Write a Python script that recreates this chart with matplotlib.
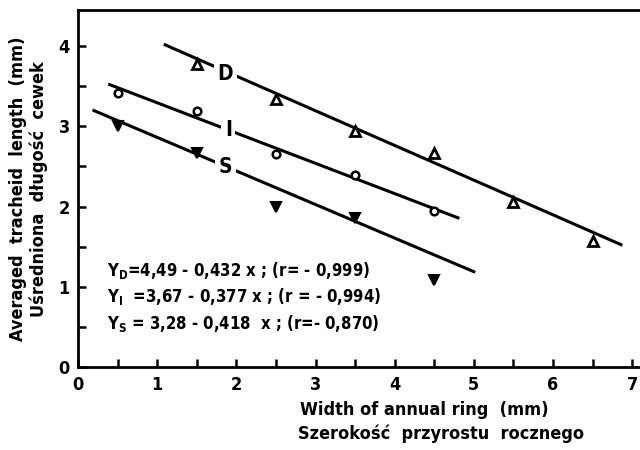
import matplotlib
matplotlib.use("Agg")
import matplotlib.pyplot as plt
import numpy as np

plt.rcParams['font.family'] = ['DejaVu Sans']
plt.rcParams['font.weight'] = 'bold'
plt.rcParams['font.stretch'] = 'condensed'
plt.rcParams['mathtext.fontset'] = 'custom'
plt.rcParams['mathtext.rm'] = 'DejaVu Sans:bold:stretch=condensed'
plt.rcParams['mathtext.bf'] = 'DejaVu Sans:bold:stretch=condensed'

# Data
x_D = [1.5, 2.5, 3.5, 4.5, 5.5, 6.5]
y_D = [3.78, 3.34, 2.94, 2.67, 2.06, 1.57]
x_I = [0.5, 1.5, 2.5, 3.5, 4.5]
y_I = [3.42, 3.19, 2.65, 2.39, 1.95]
x_S = [0.5, 1.5, 2.5, 3.5, 4.5]
y_S = [3.00, 2.67, 2.00, 1.86, 1.08]

# Regression lines (intercept, slope, x range)
fit_D = (4.49, -0.432, 1.1, 6.86)
fit_I = (3.67, -0.377, 0.4, 4.8)
fit_S = (3.28, -0.418, 0.2, 5.0)

eq_lines = [
    r"Y$_\mathbf{D}$=4,49 - 0,432 x ; (r= - 0,999)",
    r"Y$_\mathbf{I}$  =3,67 - 0,377 x ; (r = - 0,994)",
    r"Y$_\mathbf{S}$ = 3,28 - 0,418  x ; (r=- 0,870)",
]

fig = plt.figure(figsize=(6.4, 4.5), dpi=100)
ax = fig.add_axes([0.122, 0.184, 0.878, 0.794])
ax.set_xlim(0, 7.1)
ax.set_ylim(0, 4.45)

for (a, b, x0, x1) in (fit_D, fit_I, fit_S):
    xs = np.array([x0, x1])
    ax.plot(xs, a + b * xs, color='black', lw=2.2, zorder=2)

ax.plot(x_D, y_D, linestyle='none', marker='^', ms=6.5, mfc='white', mec='black', mew=2, zorder=3)
ax.plot(x_I, y_I, linestyle='none', marker='o', ms=5.5, mfc='white', mec='black', mew=1.8, zorder=3)
ax.plot(x_S, y_S, linestyle='none', marker='v', ms=6.5, mfc='black', mec='black', mew=1.5, zorder=3)

lab_kw = dict(fontsize=15, fontweight='bold', ha='center', va='center', zorder=4,
              bbox=dict(facecolor='white', edgecolor='none', pad=2.5))
ax.text(1.86, 3.65, "D", **lab_kw)
ax.text(1.90, 2.96, "I", **lab_kw)
ax.text(1.86, 2.49, "S", **lab_kw)

for i, s in enumerate(eq_lines):
    ax.text(0.37, 1.2 - i * 0.325, s, fontsize=12, fontweight='bold', ha='left', va='center')

ax.spines['right'].set_visible(False)
for sp in ('left', 'bottom', 'top'):
    ax.spines[sp].set_linewidth(2)

ax.set_xticks(range(0, 8))
ax.set_xticks(np.arange(0.5, 7.0, 1.0), minor=True)
ax.set_yticks(range(0, 5))
ax.set_yticks(np.arange(0.5, 4.5, 1.0), minor=True)
ax.tick_params(which='both', direction='in', width=1.8, labelsize=13, pad=6)
ax.tick_params(which='major', length=6)
ax.tick_params(which='minor', length=6)
ax.tick_params(axis='x', top=False)

fig.text(0.028, 0.58, "Averaged  tracheid  length  (mm)", rotation=90, fontsize=13,
         fontweight='bold', ha='center', va='center')
fig.text(0.060, 0.58, "Uśredniona  długość  cewek", rotation=90, fontsize=13,
         fontweight='bold', ha='center', va='center')
fig.text(0.468, 0.088, "Width of annual ring  (mm)", fontsize=13, fontweight='bold',
         ha='left', va='center')
fig.text(0.465, 0.037, "Szerokość  przyrostu  rocznego", fontsize=13, fontweight='bold',
         ha='left', va='center')

fig.savefig("out.png", dpi=100)
